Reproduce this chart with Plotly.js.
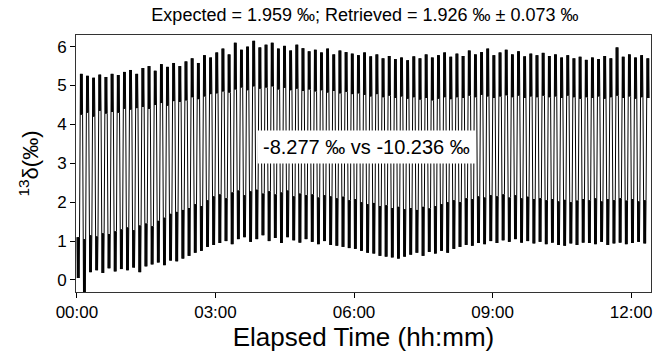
<!DOCTYPE html>
<html>
<head>
<meta charset="utf-8">
<script src="https://cdn.plot.ly/plotly-3.0.1.min.js"></script>
<style>html,body{margin:0;padding:0;background:#fff;}#chart{width:654px;height:360px;}</style>
</head>
<body>
<div id="chart"></div>
<script>
// Cycle period (hours): ~93 switching cycles over ~12.4 h
const cyclePeriodH = 8 / 60;
const startH = 0.0;

// Per-cycle envelopes of the noisy plateaus (‰)
const hiTop = [5.30,5.25,5.20,5.28,5.22,5.30,5.27,5.35,
  5.40,5.30,5.45,5.50,5.38,5.55,5.48,5.58,
  5.50,5.62,5.70,5.58,5.78,5.72,5.85,
  5.95,5.80,6.10,5.92,6.00,6.15,5.98,6.05,
  6.10,5.95,6.02,5.90,6.05,5.96,5.88,
  5.92,5.85,5.95,5.80,5.90,5.86,5.82,5.78,
  5.85,5.75,5.80,5.70,5.76,5.68,5.72,
  5.65,5.75,5.70,5.80,5.72,5.78,5.85,5.74,
  5.82,5.76,5.90,5.80,5.86,5.95,5.78,
  5.85,5.92,5.80,5.88,5.75,5.82,5.78,5.84,
  5.76,5.80,5.72,5.78,5.70,5.74,5.66,
  5.72,5.68,5.76,5.70,5.98,5.74,5.80,5.72,
  5.78,5.70];
const hiBot = [4.25,4.30,4.20,4.35,4.28,4.32,4.30,4.40,
  4.38,4.42,4.45,4.40,4.50,4.55,4.48,4.60,
  4.58,4.62,4.70,4.65,4.72,4.78,4.80,
  4.85,4.82,4.90,4.95,4.88,4.98,4.92,4.95,
  4.98,4.90,4.94,4.88,4.92,4.86,4.90,
  4.85,4.88,4.82,4.86,4.80,4.84,4.78,4.80,
  4.76,4.72,4.78,4.70,4.74,4.68,4.72,
  4.66,4.70,4.64,4.68,4.62,4.66,4.70,4.65,
  4.70,4.68,4.74,4.70,4.76,4.72,4.68,
  4.72,4.75,4.70,4.74,4.68,4.72,4.70,4.74,
  4.70,4.72,4.68,4.74,4.70,4.66,4.70,
  4.68,4.72,4.66,4.70,4.74,4.68,4.72,4.66,
  4.70,4.68];
const loTop = [1.10,1.05,1.15,1.12,1.20,1.18,1.25,1.30,
  1.35,1.28,1.40,1.45,1.38,1.52,1.60,1.70,
  1.75,1.80,1.85,1.95,1.90,2.05,2.15,
  2.20,2.10,2.25,2.30,2.18,2.28,2.32,2.22,
  2.28,2.20,2.25,2.30,2.15,2.22,2.18,
  2.20,2.12,2.18,2.15,2.10,2.14,2.05,2.08,
  2.00,1.95,1.98,1.90,1.92,1.85,1.88,
  1.82,1.85,1.80,1.88,1.84,1.90,1.95,2.00,
  2.05,2.00,2.10,2.08,2.15,2.12,2.18,
  2.15,2.20,2.12,2.18,2.10,2.14,2.08,2.10,
  2.05,2.08,2.02,2.06,2.00,2.04,2.08,
  2.05,2.10,2.02,2.08,2.05,2.10,2.04,2.08,
  2.02,2.05];
const loBot = [0.05,-0.40,0.20,0.25,0.18,0.30,0.22,0.28,
  0.25,0.32,0.20,0.35,0.40,0.45,0.38,0.50,
  0.48,0.55,0.62,0.70,0.75,0.85,0.90,
  0.95,1.00,0.92,1.05,1.10,0.98,1.05,1.15,
  1.00,1.08,0.95,1.10,1.02,0.96,1.05,
  0.98,0.92,1.00,0.90,0.88,0.85,0.82,0.80,
  0.75,0.70,0.68,0.62,0.60,0.58,0.55,
  0.60,0.65,0.70,0.62,0.72,0.68,0.75,0.70,
  0.80,0.85,0.90,0.88,0.95,0.92,1.00,
  0.95,1.02,0.98,1.05,0.96,1.00,0.94,0.98,
  0.92,0.96,0.90,0.88,0.94,0.90,0.96,
  0.95,0.92,0.98,0.90,0.94,0.96,0.92,0.95,
  0.98,0.94];

const xTickVals = [0, 3, 6, 9, 12];
const xTickText = ["00:00", "03:00", "06:00", "09:00", "12:00"];
const yTickVals = [0, 1, 2, 3, 4, 5, 6];

const titleText = "Expected = 1.959 ‰; Retrieved = 1.926 ‰ ± 0.073 ‰";
const annoText = "-8.277 ‰ vs -10.236 ‰";
const annoPos = {t: 6.27, v: 3.43};

// Build the switching trace: each cycle = noisy low plateau then noisy high plateau
const xs = [], ys = [];
const steps = [0, 0.07, 0.14, 0.21, 0.28, 0.35, 0.42];
for (let i = 0; i < hiTop.length; i++) {
  const ts = startH + i * cyclePeriodH;
  steps.forEach((f, k) => {
    xs.push(ts + f * cyclePeriodH);
    ys.push(k % 2 === 0 ? loTop[i] : loBot[i]);
  });
  steps.forEach((f, k) => {
    xs.push(ts + (0.5 + f) * cyclePeriodH);
    ys.push(k % 2 === 0 ? hiBot[i] : hiTop[i]);
  });
}

const FONT = "Liberation Sans, Arial, Helvetica, sans-serif";
const data = [{
  x: xs, y: ys, type: "scatter", mode: "lines",
  line: {color: "#000", width: 1}, hoverinfo: "skip"
}];

const layout = {
  width: 654, height: 360,
  margin: {l: 76, r: 3, t: 35, b: 68},
  paper_bgcolor: "#fff", plot_bgcolor: "#fff",
  showlegend: false,
  font: {family: FONT, color: "#000"},
  title: {text: titleText, font: {family: FONT, size: 18, color: "#000"}, x: 0.558, xanchor: "center", y: 0.978, yanchor: "top"},
  xaxis: {
    range: [-0.02, 12.43], tickvals: xTickVals, ticktext: xTickText,
    ticks: "outside", ticklen: 5, tickcolor: "#000", showgrid: false, zeroline: false,
    showline: true, linecolor: "#333", linewidth: 1, mirror: true,
    tickfont: {family: FONT, size: 17, color: "#000"},
    title: {text: "Elapsed Time (hh:mm)", font: {family: FONT, size: 26, color: "#000"}, standoff: 6}
  },
  yaxis: {
    range: [-0.31, 6.30], tickvals: yTickVals,
    ticks: "outside", ticklen: 5, tickcolor: "#000", showgrid: false, zeroline: false,
    showline: true, linecolor: "#333", linewidth: 1, mirror: true,
    tickfont: {family: FONT, size: 17, color: "#000"},
    title: {text: "<sup>13</sup>δ(‰)", font: {family: FONT, size: 22, color: "#000"}, standoff: 12}
  },
  annotations: [{
    x: annoPos.t, y: annoPos.v, xref: "x", yref: "y", text: annoText,
    showarrow: false, bgcolor: "#fff", borderpad: 5,
    font: {family: FONT, size: 20, color: "#000"}
  }]
};

Plotly.newPlot("chart", data, layout, {displayModeBar: false, staticPlot: true});
</script>
</body>
</html>
